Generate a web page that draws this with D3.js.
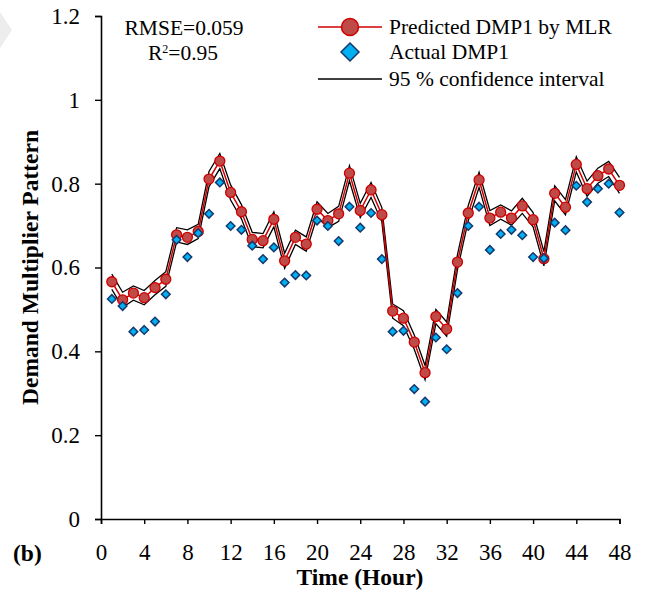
<!DOCTYPE html>
<html>
<head>
<meta charset="utf-8">
<script src="https://cdn.jsdelivr.net/npm/d3@7"></script>
<style>
  body { margin: 0; background: #fff; }
  svg text { font-family: "Liberation Serif", "Times New Roman", serif; fill: #000; }
</style>
</head>
<body>
<svg id="chart"></svg>
<script>
var w = 648;
var h = 592;

// hours 1..48
var hours = d3.range(1, 49);
var predicted = [0.566, 0.523, 0.539, 0.528, 0.552, 0.572, 0.678, 0.672, 0.686, 0.811, 0.854,
  0.779, 0.733, 0.667, 0.664, 0.715, 0.616, 0.672, 0.656, 0.739, 0.712, 0.728, 0.825,
  0.736, 0.785, 0.726, 0.496, 0.479, 0.422, 0.349, 0.483, 0.453, 0.613, 0.730, 0.809,
  0.718, 0.732, 0.718, 0.747, 0.714, 0.621, 0.777, 0.744, 0.846, 0.788, 0.819, 0.835, 0.796];
var actual = [0.525, 0.508, 0.447, 0.451, 0.471, 0.536, 0.666, 0.625, 0.682, 0.728, 0.803,
  0.699, 0.690, 0.652, 0.620, 0.648, 0.564, 0.582, 0.581, 0.712, 0.699, 0.663, 0.745,
  0.695, 0.730, 0.620, 0.447, 0.449, 0.310, 0.280, 0.433, 0.405, 0.539, 0.699, 0.745,
  0.642, 0.680, 0.690, 0.677, 0.625, 0.622, 0.707, 0.689, 0.795, 0.756, 0.788, 0.800, 0.731];
var upper = [0.584, 0.541, 0.556, 0.545, 0.569, 0.590, 0.695, 0.690, 0.703, 0.829, 0.872,
  0.797, 0.750, 0.684, 0.681, 0.733, 0.634, 0.689, 0.673, 0.757, 0.729, 0.746, 0.843,
  0.753, 0.803, 0.743, 0.513, 0.497, 0.439, 0.366, 0.500, 0.470, 0.631, 0.748, 0.827,
  0.736, 0.749, 0.735, 0.765, 0.731, 0.638, 0.795, 0.762, 0.864, 0.806, 0.837, 0.853, 0.815];
var lower = [0.548, 0.505, 0.522, 0.511, 0.535, 0.555, 0.661, 0.655, 0.669, 0.793, 0.836,
  0.761, 0.716, 0.650, 0.647, 0.697, 0.598, 0.655, 0.639, 0.721, 0.695, 0.710, 0.807,
  0.719, 0.767, 0.709, 0.479, 0.461, 0.405, 0.332, 0.466, 0.436, 0.595, 0.712, 0.791,
  0.700, 0.715, 0.701, 0.729, 0.697, 0.604, 0.759, 0.726, 0.828, 0.770, 0.801, 0.817, 0.777];

var xTicks = d3.range(0, 49, 4);
var yTicks = [0, 0.2, 0.4, 0.6, 0.8, 1, 1.2];
var legendLabels = ['Predicted DMP1 by MLR', 'Actual DMP1', '95 % confidence interval'];

var x = d3.scaleLinear().domain([0, 48]).range([101, 619.5]);
var y = d3.scaleLinear().domain([0, 1.2]).range([519, 16]);

var svg = d3.select('#chart').attr('width', w).attr('height', h);

// faint mark top-left
svg.append('path').attr('d', 'M0,12 L12,30 L0,48 Z').attr('fill', '#ededed');

// axes
var yAxis = d3.axisLeft(y).tickValues(yTicks).tickSize(6).tickPadding(15)
  .tickFormat(function (d) { return d3.format('')(d); });
var xAxis = d3.axisBottom(x).tickValues(xTicks).tickSize(5).tickPadding(20);

var gy = svg.append('g').attr('transform', 'translate(' + x(0) + ',0)').call(yAxis);
var gx = svg.append('g').attr('transform', 'translate(0,' + y(0) + ')').call(xAxis);
[gx, gy].forEach(function (g) {
  g.select('.domain').attr('stroke', '#000').attr('stroke-width', 1.6);
  g.selectAll('.tick line').attr('stroke', '#000').attr('stroke-width', 1.4);
  g.selectAll('.tick text').attr('font-size', 23).attr('font-family', 'Liberation Serif');
});

// confidence interval lines
var line = function (arr) {
  return d3.line().x(function (d, i) { return x(hours[i]); }).y(function (d) { return y(d); })(arr);
};
[upper, lower].forEach(function (arr) {
  svg.append('path').attr('d', line(arr)).attr('fill', 'none')
    .attr('stroke', '#000').attr('stroke-width', 1.3);
});

// predicted
svg.append('path').attr('d', line(predicted)).attr('fill', 'none')
  .attr('stroke', '#d00000').attr('stroke-width', 1.5);
svg.selectAll('circle.pred')
  .data(predicted)
  .enter()
  .append('circle')
  .attr('class', 'pred')
  .attr('cx', function (d, i) { return x(hours[i]); })
  .attr('cy', function (d) { return y(d); })
  .attr('r', 5)
  .attr('fill', '#bf4b48')
  .attr('stroke', '#d00000')
  .attr('stroke-width', 1.3);

// actual diamonds
var diamond = function (cx, cy, r) {
  return 'M' + cx + ',' + (cy - r) + 'L' + (cx + r) + ',' + cy + 'L' + cx + ',' + (cy + r) + 'L' + (cx - r) + ',' + cy + 'Z';
};
svg.selectAll('path.act')
  .data(actual)
  .enter()
  .append('path')
  .attr('class', 'act')
  .attr('d', function (d, i) { return diamond(x(hours[i]), y(d), 4.3); })
  .attr('fill', '#00b0f0')
  .attr('stroke', '#17386e')
  .attr('stroke-width', 1.5);

// stats text
svg.append('text').attr('x', 184).attr('y', 35).attr('text-anchor', 'middle')
  .attr('font-size', 21.5).text('RMSE=0.059');
var r2 = svg.append('text').attr('x', 183).attr('y', 60).attr('text-anchor', 'middle')
  .attr('font-size', 21.5);
r2.append('tspan').text('R');
r2.append('tspan').attr('font-size', 12).attr('dy', -7).text('2');
r2.append('tspan').attr('dy', 7).text('=0.95');

// legend
var lg = svg.append('g');
var rows = [27, 52, 79];
lg.append('line').attr('x1', 318).attr('x2', 382).attr('y1', rows[0]).attr('y2', rows[0])
  .attr('stroke', '#d00000').attr('stroke-width', 1.5);
lg.append('circle').attr('cx', 350).attr('cy', rows[0]).attr('r', 8.5)
  .attr('fill', '#bf4b48').attr('stroke', '#d00000').attr('stroke-width', 1.5);
lg.append('path').attr('d', diamond(350, rows[1], 9))
  .attr('fill', '#00b0f0').attr('stroke', '#17386e').attr('stroke-width', 1.5);
lg.append('line').attr('x1', 318).attr('x2', 382).attr('y1', rows[2]).attr('y2', rows[2])
  .attr('stroke', '#000').attr('stroke-width', 1.3);
lg.selectAll('text')
  .data(legendLabels)
  .enter()
  .append('text')
  .attr('x', 389)
  .attr('y', function (d, i) { return rows[i] + 7; })
  .attr('font-size', 21.5)
  .text(function (d) { return d; });

// axis titles
svg.append('text').attr('transform', 'translate(38,' + y(0.6) + ') rotate(-90)')
  .attr('text-anchor', 'middle').attr('font-size', 23.5).attr('font-weight', 'bold')
  .text('Demand Multiplier Pattern');
svg.append('text').attr('x', 360).attr('y', 585).attr('text-anchor', 'middle')
  .attr('font-size', 23.5).attr('font-weight', 'bold').text('Time (Hour)');
svg.append('text').attr('x', 13).attr('y', 561)
  .attr('font-size', 23.5).attr('font-weight', 'bold').text('(b)');
</script>
</body>
</html>
